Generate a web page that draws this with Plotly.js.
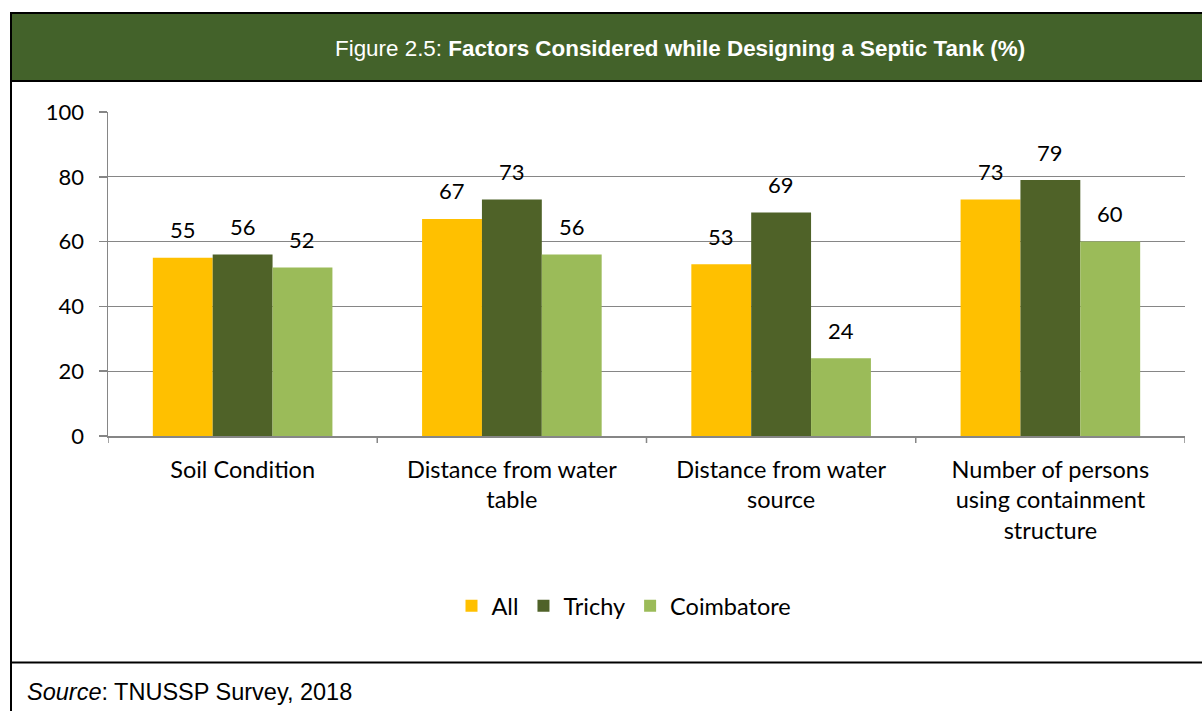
<!DOCTYPE html>
<html>
<head>
<meta charset="utf-8">
<script src="https://cdn.plot.ly/plotly-3.0.1.min.js"></script>
<style>
  html, body { margin: 0; padding: 0; background: #ffffff; }
  #chart { width: 1202px; height: 711px; }
</style>
</head>
<body>
<div id="chart"></div>
<script>
// ---- Data ----
const categories = [
  "Soil Condition",
  "Distance from water<br>table",
  "Distance from water<br>source",
  "Number of persons<br>using containment<br>structure"
];
const seriesNames = ["All", "Trichy", "Coimbatore"];
const allValues = [55, 67, 53, 73];
const trichyValues = [56, 73, 69, 79];
const coimbatoreValues = [52, 56, 24, 60];
const yTicks = [0, 20, 40, 60, 80, 100];

const seriesValues = [allValues, trichyValues, coimbatoreValues];
const colors = ["#FFC000", "#4F6228", "#9BBB59"];

// ---- Geometry helpers (pixel -> paper) ----
const W = 1202, H = 711;
const M = { l: 108, r: 17, t: 112, b: 275 };
const PW = W - M.l - M.r, PH = H - M.t - M.b;
const px = x => (x - M.l) / PW;
const py = y => (H - M.b - y) / PH;

const labelFont = "Lato, 'Open Sans', sans-serif";

const traces = seriesValues.map((vals, j) => ({
  type: "bar",
  name: seriesNames[j],
  x: categories.map((c, i) => i),
  y: vals,
  marker: { color: colors[j], line: { width: 0 } },
  hoverinfo: "y+name"
}));

const bargap = 0.333;
const barW = (1 - bargap) / seriesValues.length;
const annotations = [];
seriesValues.forEach((vals, j) => {
  vals.forEach((v, i) => {
    annotations.push({
      xref: "x", yref: "y",
      x: i + (j - 1) * barW, y: v,
      text: String(v), showarrow: false,
      yanchor: "middle", yshift: 28,
      font: { family: labelFont, size: 22, color: "#000000" }
    });
  });
});

// Header title
annotations.push({
  xref: "paper", yref: "paper",
  x: px(680), y: py(48), xanchor: "center", yanchor: "middle",
  text: "Figure 2.5: <b>Factors Considered while Designing a Septic Tank (%)</b>",
  showarrow: false,
  font: { family: "'Liberation Sans', Arial, sans-serif", size: 22.4, color: "#ffffff" }
});
// Source
annotations.push({
  xref: "paper", yref: "paper",
  x: px(25), y: py(692), xanchor: "left", yanchor: "middle",
  text: "<i>Source</i>: TNUSSP Survey, 2018",
  showarrow: false,
  font: { family: "'Liberation Sans', Arial, sans-serif", size: 23.5, color: "#000000" }
});

const shapes = [
  // header band
  { type: "rect", xref: "paper", yref: "paper", x0: px(11), x1: px(1203), y0: py(81), y1: py(13),
    fillcolor: "#43622A", line: { color: "#000000", width: 2 }, layer: "below" },
  // left border
  { type: "line", xref: "paper", yref: "paper", x0: px(11), x1: px(11), y0: py(13), y1: py(712),
    line: { color: "#000000", width: 2 } },
  // separator above source
  { type: "line", xref: "paper", yref: "paper", x0: px(11), x1: px(1203), y0: py(662.5), y1: py(662.5),
    line: { color: "#000000", width: 2 } }
];

const layout = {
  width: W, height: H,
  margin: M,
  paper_bgcolor: "#ffffff",
  plot_bgcolor: "#ffffff",
  barmode: "group",
  bargap: bargap,
  bargroupgap: 0,
  showlegend: true,
  legend: {
    orientation: "h",
    x: px(624), xanchor: "center",
    y: py(606), yanchor: "middle",
    font: { family: labelFont, size: 23.5, color: "#000000" },
    traceorder: "normal",
    itemwidth: 30
  },
  xaxis: {
    type: "linear",
    range: [-0.5, categories.length - 0.5],
    tickmode: "array",
    tickvals: categories.map((c, i) => i),
    ticktext: categories,
    ticks: "",
    showline: true, linecolor: "#868686", linewidth: 1.5,
    showgrid: false, zeroline: false,
    tickfont: { family: labelFont, size: 23.5, color: "#000000" },
    ticklabelstandoff: 12,
    fixedrange: true
  },
  yaxis: {
    range: [0, 100],
    tickmode: "array",
    tickvals: yTicks,
    ticktext: yTicks.map(String),
    ticks: "outside", ticklen: 8, tickcolor: "#868686", tickwidth: 1.5,
    showline: true, linecolor: "#868686", linewidth: 1.5,
    showgrid: true, gridcolor: "#868686", gridwidth: 1.2,
    zeroline: false,
    tickfont: { family: labelFont, size: 22, color: "#000000" },
    ticklabelstandoff: 10,
    fixedrange: true
  },
  annotations: annotations,
  shapes: shapes.concat(
    // category boundary tick marks on x axis
    [0, 1, 2, 3, 4].map(k => ({
      type: "line", xref: "x", yref: "paper",
      x0: k - 0.5, x1: k - 0.5, y0: 0, y1: py(443),
      line: { color: "#868686", width: 1.5 }
    }))
  )
};

Plotly.newPlot("chart", traces, layout, { displayModeBar: false, staticPlot: true });
</script>
</body>
</html>
